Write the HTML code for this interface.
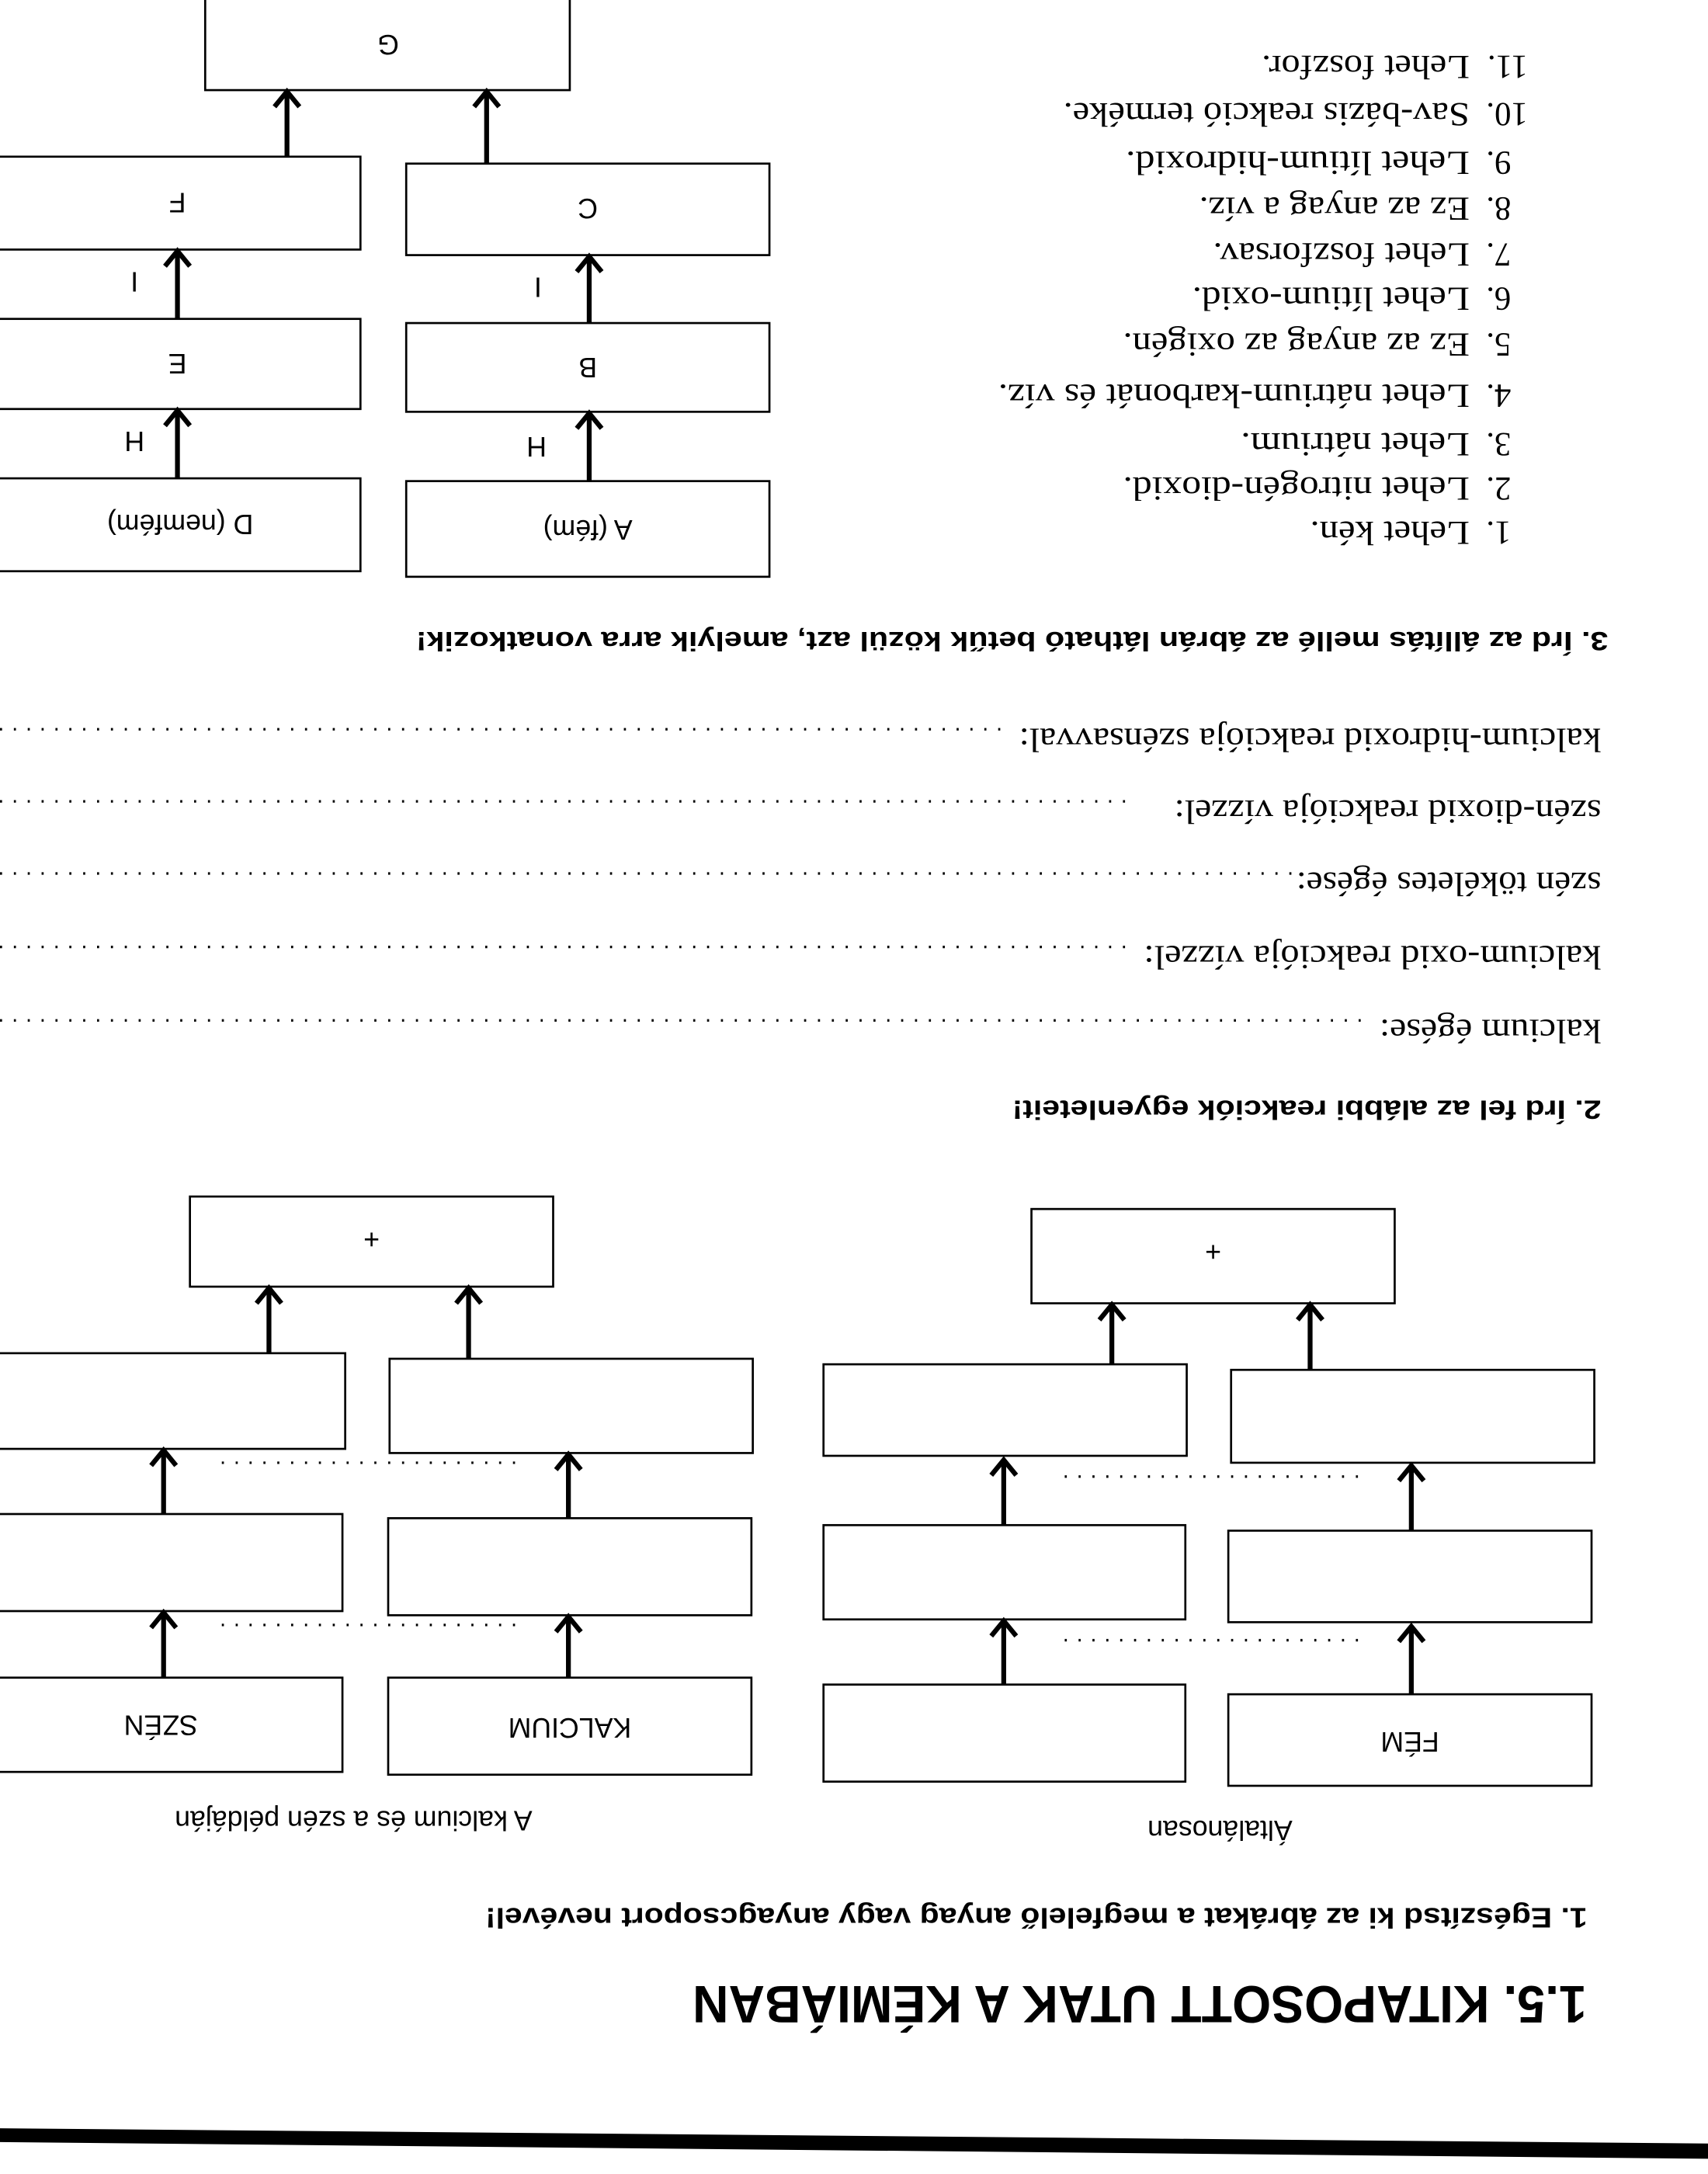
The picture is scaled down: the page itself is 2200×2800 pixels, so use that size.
<!DOCTYPE html>
<html><head><meta charset="utf-8"><style>html,body{margin:0;padding:0;background:#fff}svg{display:block}</style></head>
<body>
<svg width="2200" height="2800" viewBox="0 0 1232 1568" xmlns="http://www.w3.org/2000/svg" font-family="Liberation Sans, sans-serif">
<defs>
<g id="ah"><polyline points="-9,12 0,1 9,12" fill="none" stroke="#000" stroke-width="3.5" stroke-linejoin="miter"/></g>
</defs>
<rect width="1232" height="1568" fill="#fff"/>
<polygon points="0,1535 1232,1546 1232,1557 0,1545" fill="#000"/>
<g fill="#000">
<text transform="rotate(180 822 1445)" x="822" y="1445" text-anchor="middle" dominant-baseline="central" font-weight="bold" font-size="38" textLength="645" lengthAdjust="spacingAndGlyphs">1.5. KITAPOSOTT UTAK A KÉMIÁBAN</text>
<text transform="rotate(180 1145 1383)" x="1145" y="1383" dominant-baseline="central" font-weight="bold" font-size="20" textLength="795" lengthAdjust="spacingAndGlyphs">1. Egészítsd ki az ábrákat a megfelelő anyag vagy anyagcsoport nevével!</text>
<text transform="rotate(180 880 1320)" x="880" y="1320" text-anchor="middle" dominant-baseline="central" font-size="20">Általánosan</text>
<text transform="rotate(180 255 1313)" x="255" y="1313" text-anchor="middle" dominant-baseline="central" font-size="20">A kalcium és a szén példáján</text>
</g>
<g fill="none" stroke="#000" stroke-width="1.5">
<rect x="886" y="1222" width="262" height="66"/><rect x="594" y="1215" width="261" height="70"/>
<rect x="886" y="1104" width="262" height="66"/><rect x="594" y="1100" width="261" height="68"/>
<rect x="888" y="988" width="262" height="67"/><rect x="594" y="984" width="262" height="66"/>
<rect x="744" y="872" width="262" height="68"/>
<rect x="280" y="1210" width="262" height="70"/><rect x="-15" y="1210" width="262" height="68"/>
<rect x="280" y="1095" width="262" height="70"/><rect x="-15" y="1092" width="262" height="70"/>
<rect x="281" y="980" width="262" height="68"/><rect x="-13" y="976" width="262" height="69"/>
<rect x="137" y="863" width="262" height="65"/>
<rect x="293" y="347" width="262" height="69"/><rect x="-2" y="345" width="262" height="67"/>
<rect x="293" y="233" width="262" height="64"/><rect x="-2" y="230" width="262" height="65"/>
<rect x="293" y="118" width="262" height="66"/><rect x="-2" y="113" width="262" height="67"/>
<rect x="148" y="-2" width="263" height="67"/>
</g>
<g stroke="#000" stroke-width="1.8" stroke-dasharray="1.5 8.5" fill="none">
<line x1="768" y1="1183" x2="985" y2="1183"/><line x1="768" y1="1065" x2="985" y2="1065"/>
<line x1="160" y1="1172" x2="380" y2="1172"/><line x1="160" y1="1055" x2="380" y2="1055"/>
<line x1="0" y1="736" x2="990" y2="736"/><line x1="0" y1="683" x2="820" y2="683"/>
<line x1="0" y1="630" x2="935" y2="630"/><line x1="0" y1="578" x2="820" y2="578"/>
<line x1="0" y1="526" x2="725" y2="526"/>
</g>
<g stroke="#000" stroke-width="3.5">
<line x1="1018" y1="1222" x2="1018" y2="1174"/><line x1="724" y1="1215" x2="724" y2="1170"/>
<line x1="1018" y1="1104" x2="1018" y2="1058"/><line x1="724" y1="1100" x2="724" y2="1054"/>
<line x1="945" y1="988" x2="945" y2="942"/><line x1="802" y1="984" x2="802" y2="942"/>
<line x1="410" y1="1210" x2="410" y2="1167"/><line x1="118" y1="1210" x2="118" y2="1164"/>
<line x1="410" y1="1095" x2="410" y2="1050"/><line x1="118" y1="1092" x2="118" y2="1047"/>
<line x1="338" y1="980" x2="338" y2="930"/><line x1="194" y1="976" x2="194" y2="930"/>
<line x1="425" y1="347" x2="425" y2="299"/><line x1="128" y1="345" x2="128" y2="297"/>
<line x1="425" y1="233" x2="425" y2="186"/><line x1="128" y1="230" x2="128" y2="182"/>
<line x1="351" y1="118" x2="351" y2="67"/><line x1="207" y1="113" x2="207" y2="67"/>
</g>
<g>
<use href="#ah" x="1018" y="1172"/><use href="#ah" x="724" y="1168"/>
<use href="#ah" x="1018" y="1056"/><use href="#ah" x="724" y="1052"/>
<use href="#ah" x="945" y="940"/><use href="#ah" x="802" y="940"/>
<use href="#ah" x="410" y="1165"/><use href="#ah" x="118" y="1162"/>
<use href="#ah" x="410" y="1048"/><use href="#ah" x="118" y="1045"/>
<use href="#ah" x="338" y="928"/><use href="#ah" x="194" y="928"/>
<use href="#ah" x="425" y="297"/><use href="#ah" x="128" y="295"/>
<use href="#ah" x="425" y="184"/><use href="#ah" x="128" y="180"/>
<use href="#ah" x="351" y="65"/><use href="#ah" x="207" y="65"/>
</g>
<g fill="#000" font-size="20" text-anchor="middle" dominant-baseline="central">
<text transform="rotate(180 1017 1256)" x="1017" y="1256">FÉM</text>
<text transform="rotate(180 875 903)" x="875" y="903">+</text>
<text transform="rotate(180 268 894)" x="268" y="894">+</text>
<text transform="rotate(180 411 1246)" x="411" y="1246">KALCIUM</text>
<text transform="rotate(180 116 1244)" x="116" y="1244">SZÉN</text>
<text transform="rotate(180 424 382)" x="424" y="382">A (fém)</text>
<text transform="rotate(180 130 378)" x="130" y="378">D (nemfém)</text>
<text transform="rotate(180 424 265)" x="424" y="265">B</text>
<text transform="rotate(180 128 262)" x="128" y="262">E</text>
<text transform="rotate(180 424 150)" x="424" y="150">C</text>
<text transform="rotate(180 128 146)" x="128" y="146">F</text>
<text transform="rotate(180 280 32)" x="280" y="32">G</text>
<text transform="rotate(180 387 322)" x="387" y="322">H</text>
<text transform="rotate(180 97 318)" x="97" y="318">H</text>
<text transform="rotate(180 388 207)" x="388" y="207">I</text>
<text transform="rotate(180 97 203)" x="97" y="203">I</text>
</g>
<g fill="#000" dominant-baseline="central">
<text transform="rotate(180 1155 800)" x="1155" y="800" font-weight="bold" font-size="19" textLength="425" lengthAdjust="spacingAndGlyphs">2. Írd fel az alábbi reakciók egyenleteit!</text>
<text transform="rotate(180 1160 462)" x="1160" y="462" font-weight="bold" font-size="19" textLength="860" lengthAdjust="spacingAndGlyphs">3. Írd az állítás mellé az ábrán látható betűk közül azt, amelyik arra vonatkozik!</text>
</g>
<g fill="#000" font-family="Liberation Serif, serif" font-size="24" dominant-baseline="central">
<text transform="rotate(180 1155 743)" x="1155" y="743" textLength="160" lengthAdjust="spacingAndGlyphs">kalcium égése:</text>
<text transform="rotate(180 1155 690)" x="1155" y="690" textLength="330" lengthAdjust="spacingAndGlyphs">kalcium-oxid reakciója vízzel:</text>
<text transform="rotate(180 1155 637)" x="1155" y="637" textLength="220" lengthAdjust="spacingAndGlyphs">szén tökéletes égése:</text>
<text transform="rotate(180 1155 585)" x="1155" y="585" textLength="308" lengthAdjust="spacingAndGlyphs">szén-dioxid reakciója vízzel:</text>
<text transform="rotate(180 1155 533)" x="1155" y="533" textLength="420" lengthAdjust="spacingAndGlyphs">kalcium-hidroxid reakciója szénsavval:</text>
</g>
<g fill="#000" font-family="Liberation Serif, serif" font-size="24" dominant-baseline="central">
<text transform="rotate(180 1090 384)" x="1090" y="384">1.</text><text transform="rotate(180 1060 384)" x="1060" y="384" textLength="115" lengthAdjust="spacingAndGlyphs">Lehet kén.</text>
<text transform="rotate(180 1090 352)" x="1090" y="352">2.</text><text transform="rotate(180 1060 352)" x="1060" y="352" textLength="250" lengthAdjust="spacingAndGlyphs">Lehet nitrogén-dioxid.</text>
<text transform="rotate(180 1090 320)" x="1090" y="320">3.</text><text transform="rotate(180 1060 320)" x="1060" y="320" textLength="165" lengthAdjust="spacingAndGlyphs">Lehet nátrium.</text>
<text transform="rotate(180 1090 285)" x="1090" y="285">4.</text><text transform="rotate(180 1060 285)" x="1060" y="285" textLength="340" lengthAdjust="spacingAndGlyphs">Lehet nátrium-karbonát és víz.</text>
<text transform="rotate(180 1090 248)" x="1090" y="248">5.</text><text transform="rotate(180 1060 248)" x="1060" y="248" textLength="250" lengthAdjust="spacingAndGlyphs">Ez az anyag az oxigén.</text>
<text transform="rotate(180 1090 215)" x="1090" y="215">6.</text><text transform="rotate(180 1060 215)" x="1060" y="215" textLength="200" lengthAdjust="spacingAndGlyphs">Lehet lítium-oxid.</text>
<text transform="rotate(180 1090 183)" x="1090" y="183">7.</text><text transform="rotate(180 1060 183)" x="1060" y="183" textLength="185" lengthAdjust="spacingAndGlyphs">Lehet foszforsav.</text>
<text transform="rotate(180 1090 150)" x="1090" y="150">8.</text><text transform="rotate(180 1060 150)" x="1060" y="150" textLength="195" lengthAdjust="spacingAndGlyphs">Ez az anyag a víz.</text>
<text transform="rotate(180 1090 117)" x="1090" y="117">9.</text><text transform="rotate(180 1060 117)" x="1060" y="117" textLength="248" lengthAdjust="spacingAndGlyphs">Lehet lítium-hidroxid.</text>
<text transform="rotate(180 1102 82)" x="1102" y="82">10.</text><text transform="rotate(180 1060 82)" x="1060" y="82" textLength="293" lengthAdjust="spacingAndGlyphs">Sav-bázis reakció terméke.</text>
<text transform="rotate(180 1102 48)" x="1102" y="48">11.</text><text transform="rotate(180 1060 48)" x="1060" y="48" textLength="150" lengthAdjust="spacingAndGlyphs">Lehet foszfor.</text>
</g>
</svg>
</body></html>
